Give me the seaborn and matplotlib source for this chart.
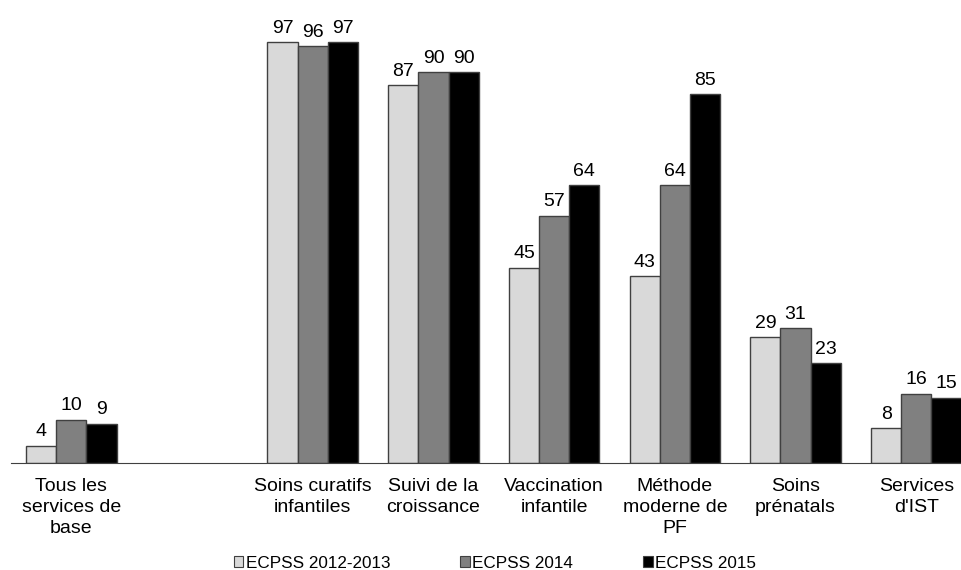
import pandas as pd
import seaborn as sns
import matplotlib.pyplot as plt
from matplotlib.patches import Patch

sns.set_style('white')
plt.rcParams['font.family'] = ['Liberation Sans', 'DejaVu Sans']
plt.rcParams['text.color'] = 'black'
plt.rcParams['xtick.color'] = 'black'

categories = ["Tous les\nservices de\nbase", "", "Soins curatifs\ninfantiles",
              "Suivi de la\ncroissance", "Vaccination\ninfantile",
              "Méthode\nmoderne de\nPF", "Soins\nprénatals", "Services\nd'IST"]
series = ["ECPSS 2012-2013", "ECPSS 2014", "ECPSS 2015"]
v2012 = [4, 97, 87, 45, 43, 29, 8]
v2014 = [10, 96, 90, 57, 64, 31, 16]
v2015 = [9, 97, 90, 64, 85, 23, 15]
colors = ["#d9d9d9", "#808080", "#000000"]

cats = [c for c in categories if c != ""]
rows = []
for s, vals in zip(series, [v2012, v2014, v2015]):
    for c, v in zip(cats, vals):
        rows.append({"cat": c, "serie": s, "val": v})
df = pd.DataFrame(rows)

fig = plt.figure(figsize=(9.62, 5.70), dpi=100)
ax = fig.add_axes([11 / 962, 107 / 570, 965.6 / 962, 463 / 570])
sns.barplot(data=df, x="cat", y="val", hue="serie", order=categories,
            hue_order=series, palette=colors, width=0.75, edgecolor="#404040",
            linewidth=1, ax=ax, legend=False)

for cont in ax.containers:
    ax.bar_label(cont, padding=4, fontsize=14, color='black')

ax.set_xlim(-0.5, 7.5)
ax.set_ylim(0, 106.7)
ax.set_yticks([])
ax.set_xlabel("")
ax.set_ylabel("")
sns.despine(ax=ax, left=True)
ax.spines['bottom'].set_color('#404040')
ax.tick_params(axis='x', length=0, pad=11, labelsize=14, labelcolor='black')
for t in ax.get_xticklabels():
    t.set_linespacing(1.28)

handles = [Patch(facecolor=c, edgecolor="#404040", linewidth=0.8) for c in colors]
fig.legend(handles, series, loc="center", bbox_to_anchor=(495 / 962, 1 - 563 / 570),
           ncol=3, frameon=False, fontsize=12.3, handlelength=0.55, handleheight=0.55,
           handletextpad=0.15, columnspacing=4.1)

plt.savefig("out.png", dpi=100)
